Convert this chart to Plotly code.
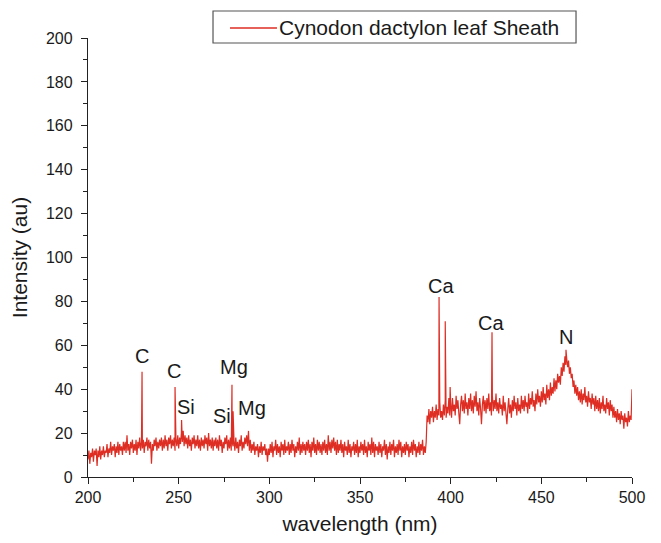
import plotly.graph_objects as go

# spectrum, 0.5 nm steps from 200 to 500 nm
start_wl = 200.0
step_wl = 0.5
intensity = [
    8, 12, 6, 11, 9, 13, 7, 12, 10, 13, 5, 12, 9, 14, 8, 12, 10, 14, 9, 12,
    11, 15, 9, 13, 11, 16, 10, 14, 12, 15, 9, 14, 11, 16, 10, 15, 12, 14, 10, 16,
    12, 16, 11, 19, 12, 15, 10, 16, 13, 17, 11, 15, 12, 17, 10, 16, 13, 18, 12, 16,
    13, 17, 11, 16, 14, 18, 12, 17, 13, 16, 6, 15, 12, 17, 14, 18, 12, 16, 13, 17,
    14, 18, 12, 17, 13, 19, 14, 17, 12, 18, 15, 19, 13, 17, 14, 18, 12, 17, 14, 19,
    13, 18, 15, 20, 16, 21, 14, 19, 15, 18, 13, 19, 14, 17, 12, 18, 15, 19, 13, 17,
    14, 19, 13, 17, 12, 18, 14, 17, 13, 19, 15, 18, 12, 20, 14, 17, 13, 18, 12, 17,
    14, 18, 13, 17, 12, 19, 14, 17, 11, 16, 13, 18, 15, 19, 12, 17, 13, 18, 12, 16,
    14, 17, 12, 18, 13, 16, 11, 17, 14, 19, 12, 16, 13, 18, 15, 19, 14, 21, 12, 17,
    11, 15, 12, 16, 10, 14, 12, 15, 9, 14, 11, 16, 10, 14, 12, 15, 10, 13, 7, 13,
    10, 15, 11, 16, 9, 14, 12, 17, 10, 15, 11, 14, 9, 16, 12, 15, 10, 17, 11, 14,
    12, 16, 10, 15, 11, 17, 12, 15, 9, 14, 11, 16, 12, 18, 10, 15, 11, 16, 12, 15,
    10, 16, 12, 17, 11, 15, 9, 16, 12, 18, 11, 15, 10, 17, 12, 16, 11, 15, 10, 16,
    12, 17, 11, 15, 10, 19, 12, 16, 11, 17, 13, 18, 12, 16, 10, 17, 11, 15, 12, 17,
    11, 15, 9, 16, 12, 14, 10, 17, 11, 15, 9, 14, 12, 16, 10, 15, 11, 17, 9, 14,
    11, 16, 12, 15, 10, 17, 11, 14, 9, 16, 12, 15, 10, 18, 11, 16, 9, 15, 12, 14,
    10, 16, 11, 15, 9, 14, 12, 17, 10, 15, 8, 14, 11, 16, 10, 15, 12, 17, 9, 14,
    11, 15, 10, 17, 12, 16, 9, 14, 11, 15, 10, 16, 12, 15, 9, 14, 11, 16, 10, 17,
    12, 15, 9, 14, 11, 16, 10, 15, 12, 17, 10, 14, 11, 16, 28, 25, 31, 24, 30, 27,
    32, 25, 30, 27, 33, 26, 31, 28, 34, 27, 30, 26, 33, 28, 35, 27, 32, 29, 36, 28,
    34, 27, 36, 30, 33, 28, 37, 31, 35, 29, 24, 33, 37, 30, 35, 29, 38, 31, 34, 28,
    36, 31, 38, 30, 35, 29, 37, 32, 39, 30, 34, 28, 36, 31, 24, 33, 37, 30, 35, 29,
    36, 31, 38, 30, 34, 28, 37, 30, 35, 31, 38, 30, 34, 29, 36, 31, 33, 28, 37, 30,
    34, 29, 24, 31, 36, 29, 33, 27, 35, 30, 37, 31, 34, 28, 36, 30, 33, 29, 37, 31,
    35, 30, 37, 32, 34, 29, 38, 31, 36, 33, 39, 32, 35, 30, 38, 33, 40, 34, 37, 32,
    39, 34, 41, 35, 38, 33, 42, 36, 40, 35, 43, 37, 41, 38, 45, 39, 44, 40, 47, 43,
    46, 42, 50, 46, 52, 48, 55, 51, 54, 50, 53, 47, 50, 45, 47, 41, 44, 38, 42, 37,
    41, 35, 39, 34, 40, 33, 38, 35, 41, 34, 37, 32, 39, 34, 36, 31, 38, 33, 36, 30,
    37, 31, 35, 30, 36, 29, 34, 31, 37, 30, 33, 29, 36, 31, 34, 28, 35, 30, 33, 27,
    32, 27, 30, 25, 31, 26, 29, 24, 30, 26, 28, 22, 29, 25, 27, 23, 30, 25, 28, 26,
    40,
]

# sharp emission lines
peak_wl = [229.8, 248.0, 251.6, 279.4, 280.0, 393.6, 397.0, 399.7, 422.8, 463.6]
peak_int = [48, 41, 26, 42, 30, 82, 71, 41, 66, 58]

# element labels
label_text = ["C", "C", "Si", "Mg", "Si", "Mg", "Ca", "Ca", "N"]
label_wl = [229.8, 247.4, 254.0, 280.5, 274.0, 290.5, 394.7, 422.3, 463.6]
label_int = [55, 48.5, 32, 50, 28, 31.5, 87, 70, 64]

series_name = "Cynodon dactylon leaf Sheath"

pts = [(start_wl + i * step_wl, v) for i, v in enumerate(intensity)]
pts += list(zip(peak_wl, peak_int))
pts.sort()
wl = [p[0] for p in pts]
val = [p[1] for p in pts]

red = "rgb(222,45,35)"
fig = go.Figure()
fig.add_trace(go.Scatter(
    x=wl, y=val, mode="lines",
    line=dict(color=red, width=1.2),
    name=series_name, showlegend=False,
))

for t, x, y in zip(label_text, label_wl, label_int):
    fig.add_annotation(x=x, y=y, text=t, showarrow=False,
                       font=dict(size=20, color="#1a1a1a"))

# legend box drawn by hand (paper coordinates)
fig.add_shape(type="rect", xref="paper", yref="paper",
              x0=0.2298, x1=0.8971, y0=0.9886, y1=1.0615,
              line=dict(color="#555", width=1.2), fillcolor="white")
fig.add_shape(type="line", xref="paper", yref="paper",
              x0=0.261, x1=0.3474, y0=1.0228, y1=1.0228,
              line=dict(color=red, width=1.3))
fig.add_annotation(xref="paper", yref="paper", x=0.3474, y=1.0228,
                   xanchor="left", yanchor="middle", showarrow=False,
                   text=series_name, font=dict(size=21, color="#1a1a1a"))

font = "Liberation Sans, Arial, Helvetica, sans-serif"
fig.update_layout(
    width=653, height=535,
    margin=dict(l=80, r=29, t=30, b=66),
    paper_bgcolor="white", plot_bgcolor="white",
    font=dict(family=font, color="#1a1a1a", size=16),
    showlegend=False,
    xaxis=dict(
        range=[200, 500], dtick=50, tick0=200,
        showline=True, linecolor="#222", linewidth=1.3,
        ticks="outside", ticklen=6, tickwidth=1.2, tickcolor="#222",
        minor=dict(dtick=25, ticks="outside", ticklen=4, tickcolor="#222"),
        showgrid=False, zeroline=False, tickfont=dict(size=16),
        title=dict(text="wavelength (nm)", font=dict(size=21), standoff=10),
    ),
    yaxis=dict(
        range=[0, 200], dtick=20, tick0=0,
        showline=True, linecolor="#222", linewidth=1.3,
        ticks="outside", ticklen=6, tickwidth=1.2, tickcolor="#222",
        minor=dict(dtick=10, ticks="outside", ticklen=4, tickcolor="#222"),
        showgrid=False, zeroline=False, tickfont=dict(size=16),
        ticklabelstandoff=5,
        title=dict(text="Intensity (au)", font=dict(size=21), standoff=12),
    ),
)

fig.write_html("out.html")
